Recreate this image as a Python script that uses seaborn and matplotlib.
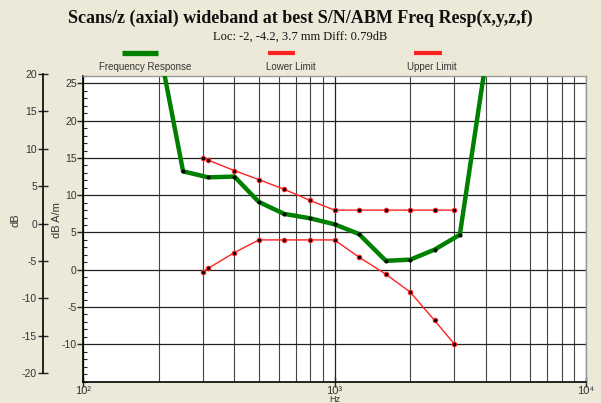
import matplotlib
matplotlib.use("Agg")
import matplotlib.pyplot as plt
from matplotlib.lines import Line2D
from matplotlib.ticker import MultipleLocator, LogLocator, NullFormatter, FixedLocator, FixedFormatter
import numpy as np
import pandas as pd
import seaborn as sns

# ---------------- data ----------------
freq_resp_hz = [200, 250, 315, 400, 500, 630, 800, 1000, 1250, 1600, 2000, 2500, 3150, 4000]
freq_resp_db = [30.2, 13.2, 12.4, 12.5, 9.1, 7.5, 6.9, 6.1, 4.8, 1.2, 1.35, 2.7, 4.7, 28.1]

limit_hz = [300, 315, 400, 500, 630, 800, 1000, 1250, 1600, 2000, 2500, 3000]
upper_limit_db = [15.0, 14.7, 13.3, 12.1, 10.8, 9.3, 8.0, 8.0, 8.0, 8.0, 8.0, 8.0]
lower_limit_db = [-0.3, 0.2, 2.3, 4.0, 4.0, 4.0, 4.0, 1.7, -0.6, -3.0, -6.8, -10.0]

x_ticks = [100, 1000, 10000]
x_tick_labels = ["10²", "10³", "10⁴"]
inner_ticks = [-10, -5, 0, 5, 10, 15, 20, 25]          # dB A/m
outer_ticks = [-20, -15, -10, -5, 0, 5, 10, 15, 20]    # dB

legend_labels = ["Frequency Response", "Lower Limit", "Upper Limit"]
title = "Scans/z (axial) wideband at best S/N/ABM Freq Resp(x,y,z,f)"
subtitle = "Loc: -2, -4.2, 3.7 mm Diff: 0.79dB"

fr_df = pd.DataFrame({"Hz": freq_resp_hz, "val": freq_resp_db})
up_df = pd.DataFrame({"Hz": limit_hz, "val": upper_limit_db})
lo_df = pd.DataFrame({"Hz": limit_hz, "val": lower_limit_db})

# ---------------- figure ----------------
sns.set_style("white")
plt.rcParams["font.family"] = ["Liberation Sans", "DejaVu Sans"]
plt.rcParams["axes.unicode_minus"] = False
BG = "#ECE9D8"
TXT = "#333333"
W, H = 601, 403

fig = plt.figure(figsize=(6.01, 4.03), dpi=100, facecolor=BG)
ax_top, ax_bot = 76, 381.5
ax = fig.add_axes([83 / W, 1 - ax_bot / H, (586 - 83) / W, (ax_bot - ax_top) / H])
ax.set_facecolor("white")

ax.set_xscale("log")
ax.set_xlim(100, 10000)
ax.set_ylim(-15, 26)

# grid
ax.xaxis.set_major_locator(FixedLocator(x_ticks))
ax.xaxis.set_major_formatter(FixedFormatter(x_tick_labels))
ax.xaxis.set_minor_locator(LogLocator(base=10, subs=np.arange(2, 10)))
ax.xaxis.set_minor_formatter(NullFormatter())
ax.set_yticks(inner_ticks)
ax.yaxis.set_minor_locator(MultipleLocator(1))
ax.grid(which="major", axis="both", color="#222222", linewidth=0.9)
ax.grid(which="minor", axis="x", color="#444444", linewidth=0.8)
ax.set_axisbelow(True)

# series
sns.lineplot(data=lo_df, x="Hz", y="val", ax=ax, color="#ff2020", linewidth=1.0,
             marker="o", markersize=3.2, markerfacecolor="black", markeredgecolor="#ff2020",
             markeredgewidth=0.8, zorder=4)
sns.lineplot(data=up_df, x="Hz", y="val", ax=ax, color="#ff2020", linewidth=1.0,
             marker="o", markersize=3.2, markerfacecolor="black", markeredgecolor="#ff2020",
             markeredgewidth=0.8, zorder=4)
sns.lineplot(data=fr_df, x="Hz", y="val", ax=ax, color="#008000", linewidth=3.2,
             marker="o", markersize=2.2, markerfacecolor="black", markeredgecolor="black",
             zorder=5)

# spines
for s in ["top", "right"]:
    ax.spines[s].set_color("#999999")
    ax.spines[s].set_linewidth(1.0)
for s in ["left", "bottom"]:
    ax.spines[s].set_color("black")
    ax.spines[s].set_linewidth(1.2)

# inner (dB A/m) axis
ax.tick_params(axis="y", which="major", direction="out", length=4, width=1,
               labelsize=7.5, labelcolor=TXT, pad=0.5, left=True)
ax.tick_params(axis="y", which="minor", direction="in", length=3, width=0.8, left=True)
ax.tick_params(axis="x", which="major", direction="inout", length=7, width=1,
               labelsize=8, labelcolor=TXT, pad=0, bottom=True)
ax.tick_params(axis="x", which="minor", length=0)
ax.set_ylabel("dB A/m", fontsize=8, color=TXT)
ax.yaxis.set_label_coords((57 - 83) / (586 - 83), (ax_bot - 220) / (ax_bot - ax_top))
ax.yaxis.label.set_va("center")
ax.set_xlabel("Hz", fontsize=6.5, color=TXT)
ax.xaxis.set_label_coords(0.5, (ax_bot - 395.5) / (ax_bot - ax_top))

# outer (dB) axis, separate spine to the left
o_top, o_bot, o_x, o_w = 74, 373, 42.7, 0.06
oax = fig.add_axes([o_x / W, 1 - o_bot / H, o_w / W, (o_bot - o_top) / H])
oax.set_facecolor("none")
oax.set_ylim(-20, 20)
oax.set_yticks(outer_ticks)
oax.set_xticks([])
for s in ["top", "right", "bottom"]:
    oax.spines[s].set_visible(False)
oax.spines["left"].set_color("black")
oax.spines["left"].set_linewidth(1.2)
oax.tick_params(axis="y", direction="inout", length=7, width=1, labelsize=7.5,
                labelcolor=TXT, pad=0.5, left=True)
oax.set_ylabel("dB", fontsize=8, color=TXT)
oax.yaxis.set_label_coords((15 - o_x) / o_w, (o_bot - 220) / (o_bot - o_top))
oax.yaxis.label.set_va("center")

# titles
fig.text(0.5, 1 - 18 / H, title, ha="center", va="center", fontsize=13,
         fontweight="bold", family=["Liberation Serif", "DejaVu Serif"], color="#111111")
fig.text(0.5, 1 - 37 / H, subtitle, ha="center", va="center", fontsize=9,
         family=["Liberation Serif", "DejaVu Serif"], color="#111111")

# legend (swatch above label)
leg_items = [(legend_labels[0], "#008000", 140, 18, 3.8, 145),
             (legend_labels[1], "#ff2020", 281.5, 13.5, 3.0, 291),
             (legend_labels[2], "#ff2020", 428, 14, 3.0, 432)]
for label, col, xc, half, lw, tx in leg_items:
    fig.add_artist(Line2D([(xc - half) / W, (xc + half) / W], [1 - 52.5 / H] * 2,
                          transform=fig.transFigure, color=col, linewidth=lw,
                          solid_capstyle="butt"))
    fig.text(tx / W, 1 - 67 / H, label, ha="center", va="center", fontsize=7, color=TXT)

fig.savefig("out.png", dpi=100, facecolor=BG)
